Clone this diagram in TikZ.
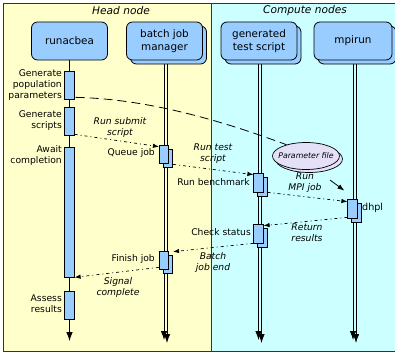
\documentclass[tikz,border=0pt]{standalone}
\usepackage{fontspec}
\setmainfont{DejaVu Sans}
\usetikzlibrary{shadows,calc,arrows.meta,shapes.geometric}
\definecolor{headbg}{HTML}{FFFFCC}
\definecolor{compbg}{HTML}{CCFFFF}
\definecolor{boxblue}{HTML}{99CCFF}
\definecolor{pfill}{HTML}{E4E0F8}
\tikzset{
  box/.style={draw, fill=boxblue, rounded corners=6pt, line width=0.8pt, minimum width=76pt, minimum height=38pt, inner sep=0pt, align=center, font=\fontsize{10.4}{12.5}\selectfont},
  shadowed/.style={copy shadow={shadow xshift=4pt, shadow yshift=-4pt}},
  bar/.style={draw, fill=boxblue, line width=0.7pt, minimum width=9.5pt, inner sep=0pt},
  lbl/.style={font=\fontsize{9.2}{11}\selectfont, align=right, inner sep=1pt},
  mlbl/.style={font=\fontsize{9.2}{11}\selectfont\itshape, align=center, inner sep=0pt},
  life/.style={line width=0.8pt, -{Latex[length=9pt,width=6.5pt]}},
  msg/.style={line width=0.7pt, dash pattern=on 3pt off 3pt on 1pt off 3pt, -{Latex[length=6pt,width=4.5pt]}},
  ttl/.style={font=\fontsize{10.6}{12}\selectfont\itshape},
}
\begin{document}
\begin{tikzpicture}[x=1pt,y=-1pt]
\useasboundingbox (0,0) rectangle (395,353);
% backgrounds
\fill[headbg] (3,3) rectangle (211,351);
\fill[compbg] (211,3) rectangle (395,351);
\draw[line width=0.9pt, black!80] (3,3) rectangle (395,351);
\draw[line width=0.9pt, black!80] (211,3) -- (211,351);
\node[ttl] (th) at (121,11) {Head node};
\node[ttl] (tc) at (305,11) {Compute nodes};

% lifelines (drawn first)
\coordinate (l1a) at (69.5,60); \coordinate (l1b) at (69.5,341);
\coordinate (l2a) at (164,60); \coordinate (l2b) at (164,340);
\coordinate (l2c) at (167,64); \coordinate (l2d) at (167,343);
\coordinate (l3a) at (258.5,60); \coordinate (l3b) at (258.5,340);
\coordinate (l3c) at (261.5,64); \coordinate (l3d) at (261.5,343);
\coordinate (l4a) at (353,60); \coordinate (l4b) at (353,340);
\coordinate (l4c) at (356,64); \coordinate (l4d) at (356,343);
\draw[life] (l1a) -- (l1b);
\draw[life] (l2a) -- (l2b);
\draw[life] (l2c) -- (l2d);
\draw[life] (l3a) -- (l3b);
\draw[life] (l3c) -- (l3d);
\draw[life] (l4a) -- (l4b);
\draw[life] (l4c) -- (l4d);

% header boxes
\node[box] (run) at (69.5,41) {runacbea};
\node[box, shadowed] (bjm) at (164.5,41) {batch job\\manager};
\node[box, shadowed] (gts) at (259,41) {generated\\test script};
\node[box, shadowed, minimum width=78pt] (mpi) at (353,41) {mpirun};

% activation bars
\node[bar, minimum height=28pt] (r1) at (69.5,85) {};
\node[bar, minimum height=28pt] (r2) at (69.5,121) {};
\node[bar, minimum height=130pt] (r3) at (69.5,212) {};
\node[bar, minimum height=28pt] (r4) at (69.5,305) {};
\node[bar, shadowed, minimum height=18pt] (q) at (164,154) {};
\node[bar, shadowed, minimum height=18pt] (f) at (164,260) {};
\node[bar, shadowed, minimum height=19pt] (rb) at (258.5,182.5) {};
\node[bar, shadowed, minimum height=19pt] (cs) at (258.5,233.5) {};
\node[bar, shadowed, minimum height=19pt] (d) at (352.5,208.5) {};

% left labels
\node[lbl, anchor=east] (g1) at (63,85) {Generate\\population\\parameters};
\node[lbl, anchor=east] (g2) at (63,121) {Generate\\scripts};
\node[lbl, anchor=east] (g3) at (63,155) {Await\\completion};
\node[lbl, anchor=east] (g4) at (63,304) {Assess\\results};
\node[lbl, anchor=east] (ql) at (156,153) {Queue job};
\node[lbl, anchor=east] (fl) at (156,259) {Finish job};
\node[lbl, anchor=east] (rbl) at (251,182) {Run benchmark};
\node[lbl, anchor=east] (csl) at (252,232) {Check status};
\node[lbl, anchor=west, font=\fontsize{9.6}{11}\selectfont] (dl) at (361,208) {dhpl};

% parameter file
\node[ellipse, draw, fill=pfill, line width=0.7pt, minimum width=67pt, minimum height=27pt, inner sep=0pt,
      copy shadow={shadow xshift=3pt, shadow yshift=-3pt},
      font=\fontsize{7.8}{9}\selectfont\itshape] (pf) at (306,156) {\makebox[0pt]{Parameter file}};
\draw[line width=0.8pt, dash pattern=on 9pt off 5pt] ($(r1.south east)+(1,-2)$) .. controls (150,99) and (225,122) .. (pf.150);
\coordinate (pfa) at (330,180);
\draw[line width=0.8pt, -{Latex[length=7pt,width=5pt]}] (pfa) -- ($(d.north west)+(-3,-8)$);

% messages
\draw[msg] ($(r2.south east)+(0,-1)$) -- ($(q.north west)+(0,2)$);
\draw[msg] ($(q.south east)+(4,1)$) -- ($(rb.north west)+(0,2)$);
\draw[msg] ($(rb.south east)+(4,0)$) -- ($(d.north west)+(0,3)$);
\draw[msg] ($(d.south west)+(0,-1)$) -- ($(cs.north east)+(0,2)$);
\draw[msg] (cs.south west) -- ($(f.north east)+(4,1)$);
\draw[msg] ($(f.south west)+(0,-2)$) -- (r3.south east);

% message labels
\node[mlbl] (m1) at (120,127) {Run submit\\script};
\node[mlbl] (m2) at (213,154) {Run test\\script};
\node[mlbl] (m3) at (305,183) {Run\\MPI job};
\node[mlbl] (m4) at (307,233) {Return\\results};
\node[mlbl] (m5) at (213,262) {Batch\\job end};
\node[mlbl] (m6) at (118,287) {Signal\\complete};
\end{tikzpicture}
\end{document}
